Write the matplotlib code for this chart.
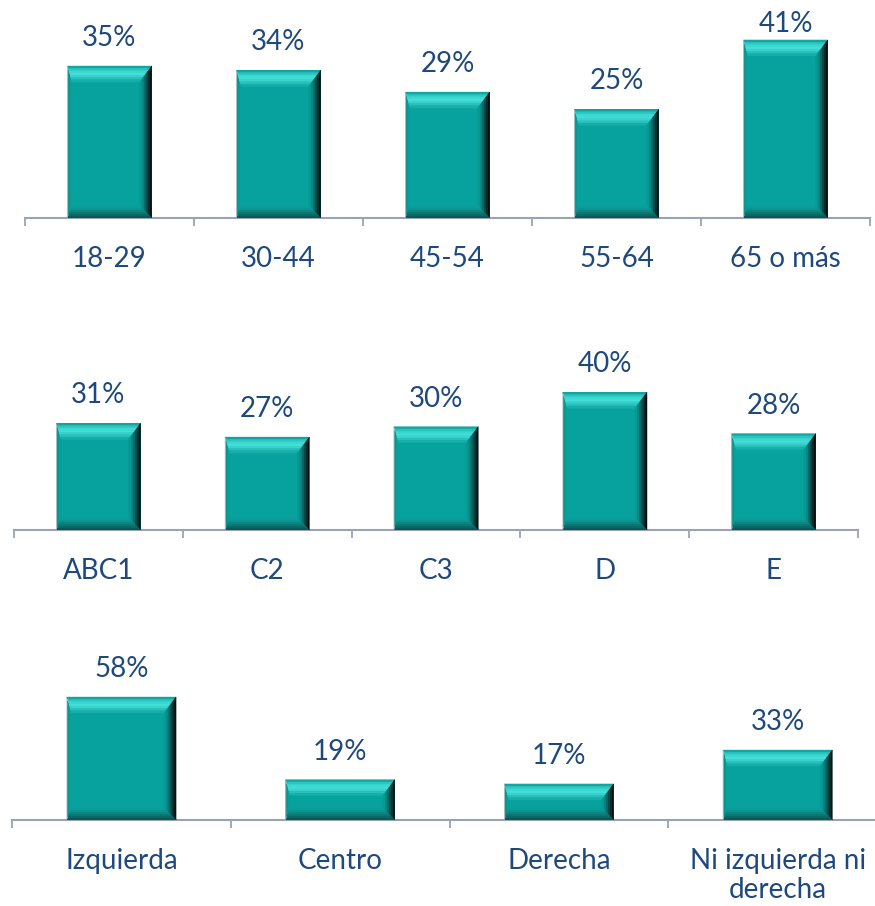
import matplotlib
matplotlib.use("Agg")
import matplotlib.pyplot as plt
from matplotlib.patches import Polygon

plt.rcParams['font.family'] = ['Lato', 'DejaVu Sans']

# grupos de edad
edad_cats = ['18-29', '30-44', '45-54', '55-64', '65 o más']
edad_vals = [35, 34, 29, 25, 41]

# grupo socioeconómico
gse_cats = ['ABC1', 'C2', 'C3', 'D', 'E']
gse_vals = [31, 27, 30, 40, 28]

# posición política
pol_cats = ['Izquierda', 'Centro', 'Derecha', 'Ni izquierda ni\nderecha']
pol_vals = [58, 19, 17, 33]

TEXT = '#1F497D'
AXIS = '#9AA3B5'
FACE = '#07A29E'

W, H = 875, 906
fig = plt.figure(figsize=(W / 100, H / 100), dpi=100)

# colores de bisel, de afuera hacia adentro
BEVEL = {
    'top':    ['#12A5A1', '#2CC6C1', '#3ED8D2', '#45DFD9', '#3BD3CD',
               '#2AC0BB', '#17ADA8'],
    'right':  ['#010E0E', '#022C2B', '#044A49', '#066A68', '#088783', '#0A9893'],
    'bottom': ['#0B5856', '#0B6664', '#0C7572', '#0C8581', '#0B938F', '#0A9D99'],
    'left':   ['#B9C6C6', '#0B8E8A', '#0A9894', '#09A09C'],
}
DEPTH = {'top': 16, 'right': 12, 'bottom': 12, 'left': 4}


def bevel_bar(ax, x, h, width, pxx, pxy):
    x0, x1 = x - width / 2, x + width / 2
    y0, y1 = 0.0, h
    ax.bar(x, h, width, color=FACE, linewidth=0, zorder=2)
    L = DEPTH['left'] / pxx
    R = DEPTH['right'] / pxx
    T = DEPTH['top'] / pxy
    B = DEPTH['bottom'] / pxy

    def rect(f):
        return (x0 + f * L, x1 - f * R, y1 - f * T, y0 + f * B)

    for side, cols in BEVEL.items():
        n = len(cols)
        for i, c in enumerate(cols):
            a, b = i / n, (i + 1) / n
            l0, r0, t0, b0 = rect(a)
            l1, r1, t1, b1 = rect(b)
            if side == 'top':
                pts = [(l0, t0), (r0, t0), (r1, t1), (l1, t1)]
            elif side == 'bottom':
                pts = [(l0, b0), (r0, b0), (r1, b1), (l1, b1)]
            elif side == 'right':
                pts = [(r0, t0), (r0, b0), (r1, b1), (r1, t1)]
            else:
                pts = [(l0, t0), (l0, b0), (l1, b1), (l1, t1)]
            ax.add_patch(Polygon(pts, closed=True, facecolor=c,
                                 edgecolor=c, linewidth=0.3, zorder=3))


def panel(cats, vals, left_px, right_px, base_px, top_px, ymax, min_base):
    n = len(cats)
    ax = fig.add_axes([left_px / W, 1 - base_px / H,
                       (right_px - left_px) / W, (base_px - top_px) / H])
    ax.set_xlim(-0.5, n - 0.5)
    ax.set_ylim(0, ymax)
    pxx = (right_px - left_px) / n
    pxy = (base_px - top_px) / ymax
    for i, v in enumerate(vals):
        bevel_bar(ax, i, v, 0.5, pxx, pxy)
        # la etiqueta baja si no cabe sobre la barra
        bar_top = base_px - v * pxy
        label_px = max(bar_top - 20, min_base)
        ax.text(i, (base_px - label_px) / pxy, f'{v}%', ha='center',
                va='baseline', fontsize=20, color=TEXT, clip_on=False)
    for s in ['top', 'right', 'left']:
        ax.spines[s].set_visible(False)
    ax.spines['bottom'].set_color(AXIS)
    ax.spines['bottom'].set_linewidth(1.5)
    ax.set_yticks([])
    ax.set_xticks([i - 0.5 for i in range(n + 1)])
    ax.set_xticklabels([])
    ax.tick_params(axis='x', which='major', direction='out', length=6,
                   width=1.3, color=AXIS)
    ax.set_xticks(range(n), minor=True)
    ax.set_xticklabels(cats, minor=True, fontsize=20, color=TEXT,
                       linespacing=1.15)
    ax.tick_params(axis='x', which='minor', length=0, pad=20)
    for lab in ax.get_xticklabels(minor=True):
        lab.set_verticalalignment('top')
    return ax


panel(edad_cats, edad_vals, 25, 870, 218, 10, 47.9, 32)
panel(gse_cats, gse_vals, 14, 858, 530, 330, 58.1, 0)
panel(pol_cats, pol_vals, 12, 887, 820, 640, 84.9, 0)

fig.savefig('out.png', dpi=100)
